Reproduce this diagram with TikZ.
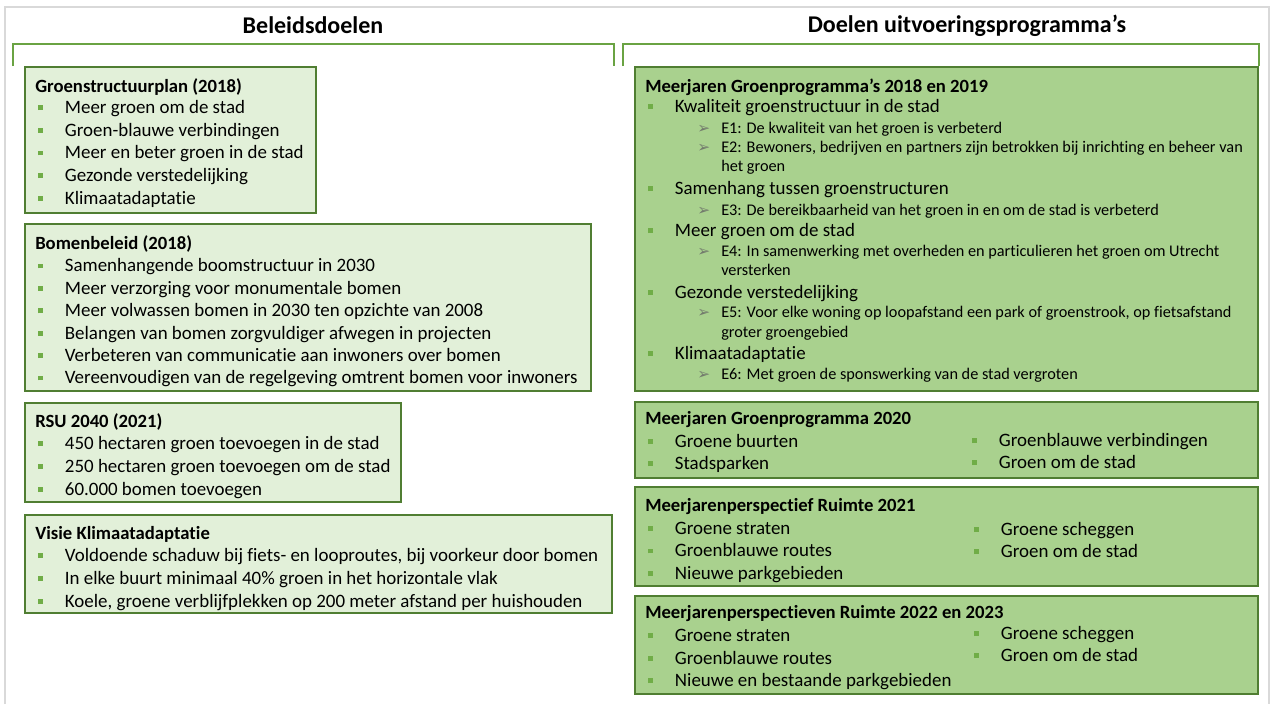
\documentclass[tikz,border=0pt]{standalone}
\usepackage{fontspec}
\setmainfont{Carlito}[Ligatures=CommonOff]
\newfontfamily\symfont{DejaVu Sans}

\definecolor{kader}{HTML}{D9D9D9}
\definecolor{haak}{HTML}{6AA343}
\definecolor{lichtgroen}{HTML}{E2F0D9}
\definecolor{groen}{HTML}{A9D18E}
\definecolor{rand}{HTML}{507E32}
\definecolor{blokje}{HTML}{70AD47}
\definecolor{pijlkleur}{HTML}{727A6C}

\newcommand{\blt}{\makebox[20pt][l]{\textcolor{blokje}{\rule[2.6pt]{3.6pt}{3.6pt}}}\strut}
\newcommand{\pijl}{\makebox[18pt][l]{\textcolor{pijlkleur}{\symfont\fontsize{11.5}{13}\selectfont ➢}}\strut}

\begin{document}
\begin{tikzpicture}[x=0.75pt,y=-0.75pt,
  lichtvak/.style={draw=rand,fill=lichtgroen,line width=1.4pt},
  donkervak/.style={draw=rand,fill=groen,line width=1.4pt},
  haakje/.style={draw=haak,line width=1.6pt},
  kolomkop/.style={font=\bfseries\fontsize{18}{21}\selectfont,inner sep=0},
  vakkop/.style={anchor=west,inner sep=0,font=\bfseries\fontsize{14}{17}\selectfont},
  punt/.style={anchor=west,inner sep=0,font=\fontsize{14.2}{17}\selectfont,execute at begin node=\blt},
  sub/.style={anchor=west,inner sep=0,font=\fontsize{12.2}{14.6}\selectfont,execute at begin node=\pijl},
  vervolg/.style={anchor=west,inner sep=0,font=\fontsize{12.2}{14.6}\selectfont\strut}]

  \useasboundingbox (0,0) rectangle (1273,704);
  \draw[kader,line width=1pt] (5,704) -- (5,7) -- (1269,7) -- (1269,704);

  % kolomkoppen met haken
  \node[kolomkop] (beleid) at (313,25) {Beleidsdoelen};
  \node[kolomkop] (uitv) at (967,26) {Doelen uitvoeringsprogramma’s};
  \draw[haakje] (13,66) -- (13,44) -- (614,44) -- (614,66);
  \draw[haakje] (623,66) -- (623,44) -- (1259,44) -- (1259,66);

  % Beleidsdoelen
  \draw[lichtvak] (25,67) rectangle (316,213);
  \node[vakkop] (gsp) at (35,87) {Groenstructuurplan (2018)};
  \foreach \txt [count=\i] in {Meer groen om de stad,Groen-blauwe verbindingen,
      Meer en beter groen in de stad,Gezonde verstedelijking,Klimaatadaptatie}
    \node[punt] (gsp\i) at (38,86.3+22.7*\i) {\txt};

  \draw[lichtvak] (25,224) rectangle (591,391);
  \node[vakkop] (bomen) at (35,244) {Bomenbeleid (2018)};
  \foreach \txt [count=\i] in {Samenhangende boomstructuur in 2030,
      Meer verzorging voor monumentale bomen,
      Meer volwassen bomen in 2030 ten opzichte van 2008,
      Belangen van bomen zorgvuldiger afwegen in projecten,
      Verbeteren van communicatie aan inwoners over bomen,
      Vereenvoudigen van de regelgeving omtrent bomen voor inwoners}
    \node[punt] (bomen\i) at (38,245+22.4*\i) {\txt};

  \draw[lichtvak] (25,403) rectangle (401,502);
  \node[vakkop] (rsu) at (35,422) {RSU 2040 (2021)};
  \foreach \txt [count=\i] in {450 hectaren groen toevoegen in de stad,
      250 hectaren groen toevoegen om de stad,60.000 bomen toevoegen}
    \node[punt] (rsu\i) at (38,422+23*\i) {\txt};

  \draw[lichtvak] (25,515) rectangle (612,613);
  \node[vakkop] (visie) at (35,534) {Visie Klimaatadaptatie};
  \foreach \txt [count=\i] in {Voldoende schaduw bij fiets- en looproutes{,} bij voorkeur door bomen,
      In elke buurt minimaal 40\% groen in het horizontale vlak,
      Koele{,} groene verblijfplekken op 200 meter afstand per huishouden}
    \node[punt] (visie\i) at (38,534+23*\i) {\txt};

  % Doelen uitvoeringsprogramma's
  \draw[donkervak] (635,67) rectangle (1258,391);
  \node[vakkop] (mgp) at (645,87) {Meerjaren Groenprogramma’s 2018 en 2019};
  \foreach \y/\txt [count=\i] in {108/Kwaliteit groenstructuur in de stad,
      190/Samenhang tussen groenstructuren,232/Meer groen om de stad,
      294/Gezonde verstedelijking,355/Klimaatadaptatie}
    \node[punt] (mgp\i) at (648,\y) {\txt};
  \foreach \y/\txt [count=\i] in {130/E1: De kwaliteit van het groen is verbeterd,
      149/E2: Bewoners{,} bedrijven en partners zijn betrokken bij inrichting en beheer van,
      212/E3: De bereikbaarheid van het groen in en om de stad is verbeterd,
      253/E4: In samenwerking met overheden en particulieren het groen om Utrecht,
      314/E5: Voor elke woning op loopafstand een park of groenstrook{,} op fietsafstand,
      376/E6: Met groen de sponswerking van de stad vergroten}
    \node[sub] (e\i) at (697,\y) {\txt};
  \node[vervolg] (e2b) at (721,168) {het groen};
  \node[vervolg] (e4b) at (721,272) {versterken};
  \node[vervolg] (e5b) at (721,334) {groter groengebied};

  \draw[donkervak] (635,402) rectangle (1258,478);
  \node[vakkop] (mg20) at (645,420) {Meerjaren Groenprogramma 2020};
  \node[punt] (mg20a) at (648,443) {Groene buurten};
  \node[punt] (mg20b) at (648,465) {Stadsparken};
  \node[punt] (mg20c) at (972,442) {Groenblauwe verbindingen};
  \node[punt] (mg20d) at (972,464) {Groen om de stad};

  \draw[donkervak] (635,487) rectangle (1258,586);
  \node[vakkop] (mp21) at (645,507) {Meerjarenperspectief Ruimte 2021};
  \foreach \txt [count=\i] in {Groene straten,Groenblauwe routes,Nieuwe parkgebieden}
    \node[punt] (mp21l\i) at (648,507+22.7*\i) {\txt};
  \foreach \txt [count=\i] in {Groene scheggen,Groen om de stad}
    \node[punt] (mp21r\i) at (974,509+22*\i) {\txt};

  \draw[donkervak] (635,596) rectangle (1258,694);
  \node[vakkop] (mp23) at (645,614) {Meerjarenperspectieven Ruimte 2022 en 2023};
  \foreach \txt [count=\i] in {Groene straten,Groenblauwe routes,Nieuwe en bestaande parkgebieden}
    \node[punt] (mp23l\i) at (648,614.5+22.5*\i) {\txt};
  \foreach \txt [count=\i] in {Groene scheggen,Groen om de stad}
    \node[punt] (mp23r\i) at (974,613+22*\i) {\txt};
\end{tikzpicture}
\end{document}
